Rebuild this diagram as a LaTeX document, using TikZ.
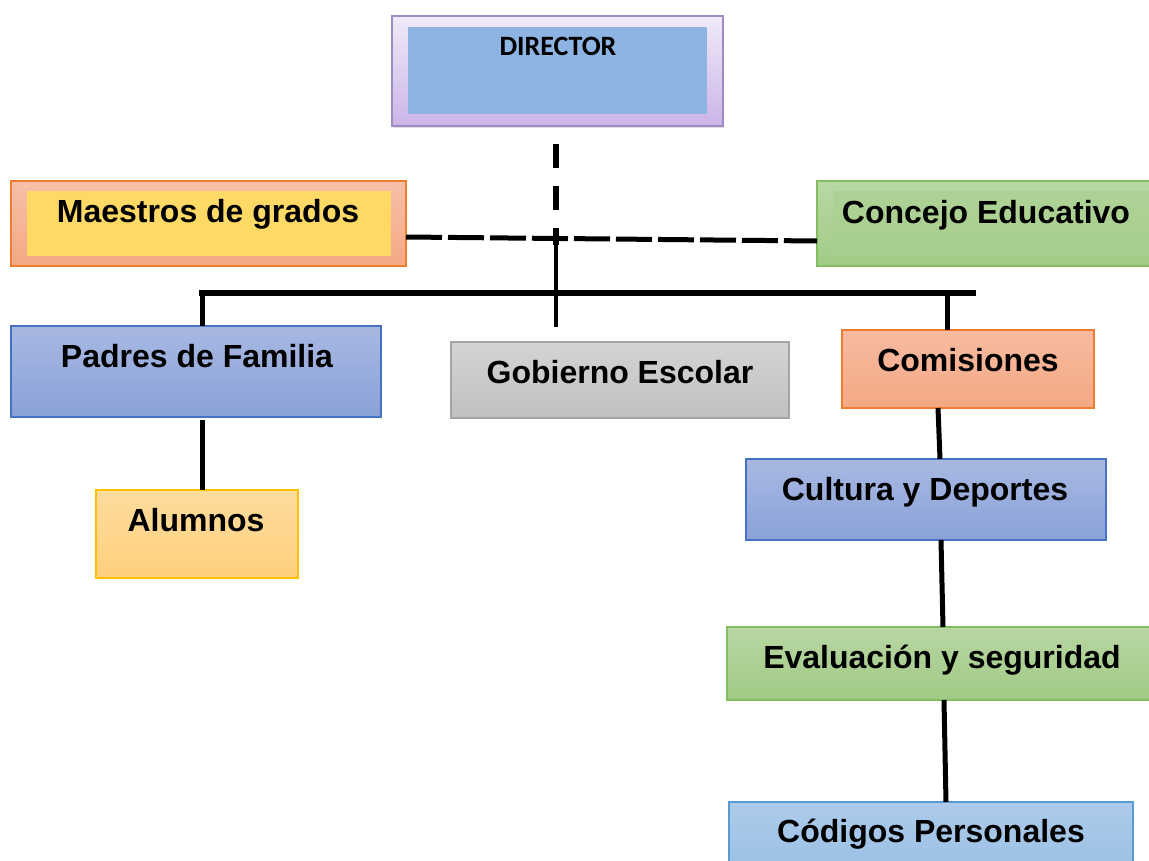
\documentclass[tikz,border=0pt]{standalone}
\usepackage{fontspec}
\setmainfont{Liberation Sans}
\newfontfamily\dirfont{Carlito}
\usetikzlibrary{shadows}
\definecolor{orgBorder}{HTML}{ED7D31}
\definecolor{bluBorder}{HTML}{4472C4}
\definecolor{grnBorder}{HTML}{70AD47}
\begin{document}
\begin{tikzpicture}[x=1pt,y=-1pt,
  box/.style={rectangle, inner sep=0pt, line width=1.2pt},
  lbl/.style={anchor=base, inner sep=0pt, font=\fontsize{32}{32}\selectfont\bfseries},
  conn/.style={line width=5pt, black},
  dashconn/.style={line width=5.5pt, black, dash pattern=on 24pt off 18pt},
  hdash/.style={line width=5pt, black, dash pattern=on 36pt off 6pt}]
\clip (0,0) rectangle (1149,860);
\fill[white] (0,0) rectangle (1149,860);
% DIRECTOR
\node[box, draw={rgb,255:red,160;green,139;blue,192}, line width=2pt, top color={rgb,255:red,240;green,234;blue,248}, bottom color={rgb,255:red,204;green,180;blue,232}, minimum width=331pt, minimum height=110pt, drop shadow={shadow xshift=1pt, shadow yshift=-2pt, opacity=0.25}] (dir) at (557.5,71) {};
\node[box, fill={rgb,255:red,142;green,180;blue,227}, minimum width=299pt, minimum height=87pt] (dirin) at (557.5,70.5) {};
\node[anchor=base, inner sep=0pt, font=\dirfont\fontsize{28}{28}\selectfont\bfseries] (dirt) at (558,55) {DIRECTOR};
% Maestros de grados
\node[box, draw=orgBorder, top color={rgb,255:red,247;green,192;blue,168}, bottom color={rgb,255:red,245;green,168;blue,132}, minimum width=395pt, minimum height=85pt] (mg) at (208.5,223.5) {};
\node[box, fill={rgb,255:red,254;green,217;blue,102}, minimum width=364pt, minimum height=65pt] (mgin) at (209,223.5) {};
\node[lbl] (mgt) at (208,222) {Maestros de grados};
% Concejo Educativo
\node[box, draw={rgb,255:red,130;green,190;blue,95}, top color={rgb,255:red,184;green,216;blue,163}, bottom color={rgb,255:red,162;green,203;blue,134}, minimum width=340pt, minimum height=85pt] (ce) at (987,223.5) {};
\node[box, fill={rgb,255:red,170;green,208;blue,144}, opacity=0.6, minimum width=320pt, minimum height=65pt] (cein) at (993,223.5) {};
\node[lbl] (cet) at (986,223) {Concejo Educativo};
% Padres de Familia
\node[box, draw=bluBorder, top color={rgb,255:red,168;green,184;blue,226}, bottom color={rgb,255:red,138;green,162;blue,216}, minimum width=370pt, minimum height=91pt] (pf) at (196,371.5) {};
\node[lbl] (pft) at (197,367) {Padres de Familia};
% Gobierno Escolar
\node[box, draw={rgb,255:red,165;green,165;blue,165}, top color={rgb,255:red,212;green,212;blue,212}, bottom color={rgb,255:red,192;green,192;blue,192}, minimum width=338pt, minimum height=76pt] (ge) at (620,380) {};
\node[lbl] (get) at (620,383) {Gobierno Escolar};
% Comisiones
\node[box, draw=orgBorder, top color={rgb,255:red,247;green,187;blue,160}, bottom color={rgb,255:red,244;green,168;blue,132}, minimum width=252pt, minimum height=78pt] (co) at (968,369) {};
\node[lbl] (cot) at (968,371) {Comisiones};
% Alumnos
\node[box, draw={rgb,255:red,255;green,192;blue,0}, top color={rgb,255:red,254;green,220;blue,156}, bottom color={rgb,255:red,254;green,208;blue,125}, minimum width=202pt, minimum height=88pt] (al) at (197,534) {};
\node[lbl] (alt) at (196,531) {Alumnos};
% Cultura y Deportes
\node[box, draw=bluBorder, top color={rgb,255:red,168;green,184;blue,226}, bottom color={rgb,255:red,138;green,162;blue,216}, minimum width=360pt, minimum height=81pt] (cd) at (926,499.5) {};
\node[lbl] (cdt) at (925,500) {Cultura y Deportes};
% Evaluacion y seguridad
\node[box, draw={rgb,255:red,130;green,190;blue,95}, top color={rgb,255:red,184;green,214;blue,163}, bottom color={rgb,255:red,160;green,202;blue,132}, minimum width=430pt, minimum height=73pt] (es) at (942,663.5) {};
\node[lbl] (est) at (942,668) {Evaluación y seguridad};
% Codigos Personales
\node[box, draw={rgb,255:red,91;green,155;blue,213}, top color={rgb,255:red,174;green,203;blue,234}, bottom color={rgb,255:red,150;green,190;blue,228}, minimum width=404pt, minimum height=80pt] (cp) at (931,842) {};
\node[lbl] (cpt) at (931,842) {Códigos Personales};
% connector points
\coordinate (dA) at (556,144);
\coordinate (dB) at (556,245);
\coordinate (dC) at (556,327);
\coordinate (mgR) at (406,237);
\coordinate (ceL) at (817,241);
\coordinate (bL) at (202,293);
\coordinate (bR) at (973,293);
\coordinate (bC) at (947,293);
\coordinate (pfT) at (202,326);
\coordinate (coT) at (947,330);
\coordinate (pfB) at (202,420);
\coordinate (alT) at (202,490);
\coordinate (coB) at (938,408);
\coordinate (cdT) at (940,459);
\coordinate (cdB) at (941,540);
\coordinate (esT) at (943,627);
\coordinate (esB) at (944,700);
\coordinate (cpT) at (946,802);
% connectors
\draw[dashconn] (dA) -- (dB);
\draw[line width=3.5pt] (dB) -- (dC);
\draw[hdash] (mgR) -- (ceL);
\draw[line width=6pt, line cap=rect] (bL) -- (bR);
\draw[conn] (bL) -- (pfT);
\draw[conn] (bC) -- (coT);
\draw[conn] (pfB) -- (alT);
\draw[conn] (coB) -- (cdT);
\draw[conn] (cdB) -- (esT);
\draw[conn] (esB) -- (cpT);
\end{tikzpicture}
\end{document}
